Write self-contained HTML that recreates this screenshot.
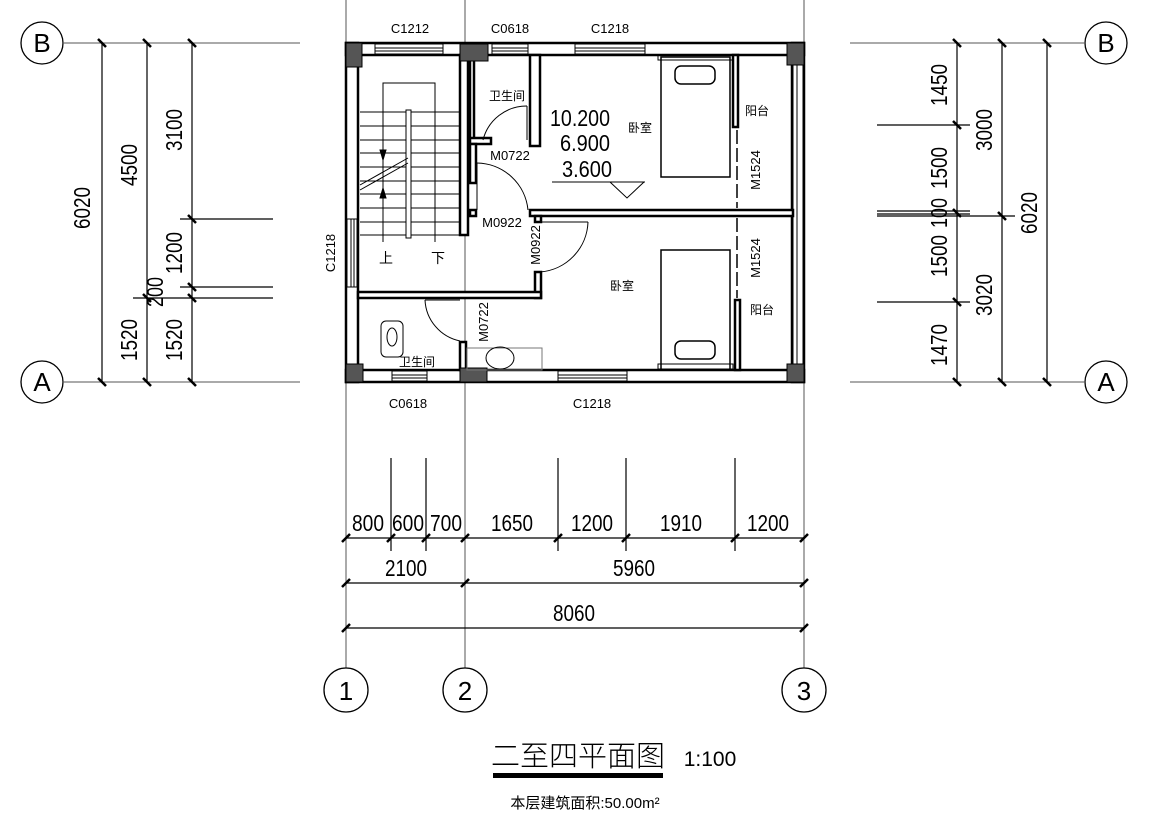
<!DOCTYPE html>
<html><head><meta charset="utf-8"><style>
html,body{margin:0;padding:0;background:#fff;}
svg{display:block;}
text{font-family:"Liberation Sans","Noto Sans CJK SC",sans-serif;fill:#000;}
.d{font-size:23px;}
.s{font-size:13px;}
.cj{font-size:12px;font-family:"Noto Sans CJK SC",sans-serif;}
</style></head><body>
<svg width="1149" height="829" viewBox="0 0 1149 829" xmlns="http://www.w3.org/2000/svg">
<g stroke="#000" fill="none">
<g stroke-width="1" stroke="#555">
<line x1="346" y1="0" x2="346" y2="668"/>
<line x1="465" y1="0" x2="465" y2="668"/>
<line x1="804" y1="0" x2="804" y2="668"/>
<line x1="64" y1="43" x2="300" y2="43"/>
<line x1="64" y1="382" x2="300" y2="382"/>
<line x1="850" y1="43" x2="1084" y2="43"/>
<line x1="850" y1="382" x2="1084" y2="382"/>
</g>
<g stroke-width="1.3">
<circle cx="42" cy="43" r="21"/><circle cx="42" cy="382" r="21"/>
<circle cx="1106" cy="43" r="21"/><circle cx="1106" cy="382" r="21"/>
<circle cx="346" cy="690" r="22"/><circle cx="465" cy="690" r="22"/><circle cx="804" cy="690" r="22"/>
</g>
<g stroke-width="1.2">
<line x1="102" y1="43" x2="102" y2="382"/>
<line x1="147" y1="43" x2="147" y2="382"/>
<line x1="192" y1="43" x2="192" y2="382"/>
<line x1="180" y1="219" x2="273" y2="219"/>
<line x1="180" y1="287" x2="273" y2="287"/>
<line x1="133" y1="298" x2="273" y2="298"/>
<line x1="957" y1="43" x2="957" y2="382"/>
<line x1="1002" y1="43" x2="1002" y2="382"/>
<line x1="1047" y1="43" x2="1047" y2="382"/>
<line x1="877" y1="125" x2="970" y2="125"/>
<line x1="877" y1="211" x2="970" y2="211"/>
<line x1="877" y1="214" x2="970" y2="214"/>
<line x1="877" y1="216" x2="1015" y2="216"/>
<line x1="877" y1="302" x2="970" y2="302"/>
<line x1="346" y1="538" x2="804" y2="538"/>
<line x1="346" y1="583" x2="804" y2="583"/>
<line x1="346" y1="628" x2="804" y2="628"/>
<line x1="391" y1="458" x2="391" y2="551"/>
<line x1="426" y1="458" x2="426" y2="551"/>
<line x1="558" y1="458" x2="558" y2="551"/>
<line x1="626" y1="458" x2="626" y2="551"/>
<line x1="735" y1="458" x2="735" y2="551"/>
</g>
<g stroke-width="2.5">
<path d="M98 39l8 8M143 39l8 8M188 39l8 8M98 378l8 8M143 378l8 8M188 378l8 8M188 215l8 8M188 283l8 8M188 294l8 8M143 294l8 8
M953 39l8 8M998 39l8 8M1043 39l8 8M953 378l8 8M998 378l8 8M1043 378l8 8M953 121l8 8M953 209l8 8M998 212l8 8M953 298l8 8
M342 542l8 -8M387 542l8 -8M422 542l8 -8M461 542l8 -8M554 542l8 -8M622 542l8 -8M731 542l8 -8M800 542l8 -8
M342 587l8 -8M461 587l8 -8M800 587l8 -8M342 632l8 -8M800 632l8 -8"/>
</g>
</g>

<g stroke="#000" stroke-width="2.5" fill="#fff">
<rect x="346" y="43" width="458" height="12"/>
<rect x="346" y="370" width="458" height="12"/>
<rect x="346" y="43" width="12" height="339"/>
<rect x="792" y="43" width="12" height="339"/>
</g>
<g stroke="#000" stroke-width="1" fill="#fff">
<rect x="375" y="44" width="68" height="10"/><line x1="375" y1="48" x2="443" y2="48"/><line x1="375" y1="51" x2="443" y2="51"/>
<rect x="492" y="44" width="36" height="10"/><line x1="492" y1="48" x2="528" y2="48"/><line x1="492" y1="51" x2="528" y2="51"/>
<rect x="575" y="44" width="70" height="10"/><line x1="575" y1="48" x2="645" y2="48"/><line x1="575" y1="51" x2="645" y2="51"/>
<rect x="392" y="371" width="35" height="10"/><line x1="392" y1="375" x2="427" y2="375"/><line x1="392" y1="378" x2="427" y2="378"/>
<rect x="558" y="371" width="69" height="10"/><line x1="558" y1="375" x2="627" y2="375"/><line x1="558" y1="378" x2="627" y2="378"/>
<rect x="347" y="219" width="10" height="68"/><line x1="351" y1="219" x2="351" y2="287"/><line x1="354" y1="219" x2="354" y2="287"/>
<rect x="793" y="58" width="10" height="308"/><line x1="797" y1="58" x2="797" y2="366"/>
</g>
<g stroke="#000" stroke-width="2.5" fill="#fff">
<rect x="460" y="55" width="8" height="180"/>
<rect x="470" y="55" width="4" height="87"/>
<rect x="470" y="138" width="21" height="6"/>
<rect x="530" y="55" width="10" height="91"/>
<rect x="470" y="144" width="6" height="39"/>
<rect x="470" y="210" width="6" height="6"/>
<rect x="530" y="210" width="263" height="6"/>
<rect x="535" y="216" width="6" height="6"/>
<rect x="535" y="272" width="6" height="26"/>
<rect x="358" y="292" width="183" height="6"/>
<rect x="460" y="342" width="6" height="28"/>
<rect x="733" y="55" width="5" height="72"/>
<rect x="735" y="300" width="5" height="70"/>
</g>
<g stroke="#000" stroke-width="1.5" fill="none">
<line x1="737" y1="130" x2="737" y2="208" stroke-dasharray="14 4"/>
<line x1="737" y1="218" x2="737" y2="298" stroke-dasharray="14 4"/>
</g>
<g fill="#555" stroke="#000" stroke-width="1">
<rect x="346" y="43" width="16" height="24"/>
<rect x="460" y="44" width="28" height="17"/>
<rect x="787" y="43" width="17" height="22"/>
<rect x="346" y="364" width="17" height="18"/>
<rect x="460" y="368" width="27" height="14"/>
<rect x="787" y="364" width="17" height="18"/>
</g>
<g stroke="#000" stroke-width="1" fill="none">
<path d="M360 112H460M360 126H460M360 140H460M360 153H460M360 167H460M360 181H460M360 194H460M360 208H460M360 222H460M360 235H460"/>
<path d="M383 242V83H435V242"/>
<rect x="406" y="110" width="5" height="128" fill="#fff"/>
<path d="M360 185L408 158M360 190L408 163"/>
<path d="M380 150L386 150L383 160Z M380 198L386 198L383 188Z" fill="#000"/>
<path d="M483 140A45 45 0 0 1 527 106"/>
<line x1="527" y1="106" x2="527" y2="140"/>
<path d="M477 163A52 52 0 0 1 528 210"/>
<line x1="477" y1="163" x2="477" y2="210"/>
<path d="M540 272A52 52 0 0 0 588 222"/>
<line x1="541" y1="222" x2="588" y2="222"/>
<path d="M425 300A44 44 0 0 0 460 341"/>
<line x1="425" y1="300" x2="460" y2="300"/>
<rect x="661" y="57" width="69" height="120" stroke-width="1.5"/>
<rect x="675" y="66" width="40" height="18" rx="6" stroke-width="1.5"/>
<rect x="658" y="55" width="75" height="5"/>
<rect x="661" y="250" width="69" height="120" stroke-width="1.5"/>
<rect x="675" y="341" width="40" height="18" rx="6" stroke-width="1.5"/>
<rect x="658" y="364" width="75" height="5"/>
<rect x="381" y="321" width="22" height="36" rx="5"/>
<ellipse cx="392" cy="337" rx="5" ry="9"/>
<rect x="467" y="348" width="75" height="22" stroke="#777"/>
<ellipse cx="500" cy="358" rx="14" ry="11"/>
<line x1="552" y1="182" x2="645" y2="182"/>
<path d="M610 182L627 198L644 182"/>
</g>

<g class="d" lengthAdjust="spacingAndGlyphs">
<text x="90" y="208" transform="rotate(-90 90 208)" text-anchor="middle" textLength="42" lengthAdjust="spacingAndGlyphs">6020</text>
<text x="137" y="165" transform="rotate(-90 137 165)" text-anchor="middle" textLength="42" lengthAdjust="spacingAndGlyphs">4500</text>
<text x="182" y="130" transform="rotate(-90 182 130)" text-anchor="middle" textLength="42" lengthAdjust="spacingAndGlyphs">3100</text>
<text x="182" y="253" transform="rotate(-90 182 253)" text-anchor="middle" textLength="42" lengthAdjust="spacingAndGlyphs">1200</text>
<text x="163" y="292" transform="rotate(-90 163 292)" text-anchor="middle" textLength="30" lengthAdjust="spacingAndGlyphs">200</text>
<text x="137" y="340" transform="rotate(-90 137 340)" text-anchor="middle" textLength="42" lengthAdjust="spacingAndGlyphs">1520</text>
<text x="182" y="340" transform="rotate(-90 182 340)" text-anchor="middle" textLength="42" lengthAdjust="spacingAndGlyphs">1520</text>
<text x="947" y="85" transform="rotate(-90 947 85)" text-anchor="middle" textLength="42" lengthAdjust="spacingAndGlyphs">1450</text>
<text x="992" y="130" transform="rotate(-90 992 130)" text-anchor="middle" textLength="42" lengthAdjust="spacingAndGlyphs">3000</text>
<text x="947" y="168" transform="rotate(-90 947 168)" text-anchor="middle" textLength="42" lengthAdjust="spacingAndGlyphs">1500</text>
<text x="947" y="213" transform="rotate(-90 947 213)" text-anchor="middle" textLength="30" lengthAdjust="spacingAndGlyphs">100</text>
<text x="947" y="256" transform="rotate(-90 947 256)" text-anchor="middle" textLength="42" lengthAdjust="spacingAndGlyphs">1500</text>
<text x="992" y="295" transform="rotate(-90 992 295)" text-anchor="middle" textLength="42" lengthAdjust="spacingAndGlyphs">3020</text>
<text x="947" y="345" transform="rotate(-90 947 345)" text-anchor="middle" textLength="42" lengthAdjust="spacingAndGlyphs">1470</text>
<text x="1037" y="213" transform="rotate(-90 1037 213)" text-anchor="middle" textLength="42" lengthAdjust="spacingAndGlyphs">6020</text>
<text x="368" y="531" text-anchor="middle" textLength="32" lengthAdjust="spacingAndGlyphs">800</text>
<text x="408" y="531" text-anchor="middle" textLength="32" lengthAdjust="spacingAndGlyphs">600</text>
<text x="446" y="531" text-anchor="middle" textLength="32" lengthAdjust="spacingAndGlyphs">700</text>
<text x="512" y="531" text-anchor="middle" textLength="42" lengthAdjust="spacingAndGlyphs">1650</text>
<text x="592" y="531" text-anchor="middle" textLength="42" lengthAdjust="spacingAndGlyphs">1200</text>
<text x="681" y="531" text-anchor="middle" textLength="42" lengthAdjust="spacingAndGlyphs">1910</text>
<text x="768" y="531" text-anchor="middle" textLength="42" lengthAdjust="spacingAndGlyphs">1200</text>
<text x="406" y="576" text-anchor="middle" textLength="42" lengthAdjust="spacingAndGlyphs">2100</text>
<text x="634" y="576" text-anchor="middle" textLength="42" lengthAdjust="spacingAndGlyphs">5960</text>
<text x="574" y="621" text-anchor="middle" textLength="42" lengthAdjust="spacingAndGlyphs">8060</text>
<text x="580" y="126" text-anchor="middle" textLength="60" lengthAdjust="spacingAndGlyphs">10.200</text>
<text x="585" y="151" text-anchor="middle" textLength="50" lengthAdjust="spacingAndGlyphs">6.900</text>
<text x="587" y="177" text-anchor="middle" textLength="50" lengthAdjust="spacingAndGlyphs">3.600</text>
</g>
<g style="font-family:'Liberation Serif',serif;font-size:26px">
<text x="42" y="52" text-anchor="middle">B</text>
<text x="42" y="391" text-anchor="middle">A</text>
<text x="1106" y="52" text-anchor="middle">B</text>
<text x="1106" y="391" text-anchor="middle">A</text>
<text x="346" y="700" text-anchor="middle">1</text>
<text x="465" y="700" text-anchor="middle">2</text>
<text x="804" y="700" text-anchor="middle">3</text>
</g>
<g class="s">
<text x="410" y="33" text-anchor="middle">C1212</text>
<text x="510" y="33" text-anchor="middle">C0618</text>
<text x="610" y="33" text-anchor="middle">C1218</text>
<text x="408" y="408" text-anchor="middle">C0618</text>
<text x="592" y="408" text-anchor="middle">C1218</text>
<text x="335" y="253" transform="rotate(-90 335 253)" text-anchor="middle">C1218</text>
<text x="510" y="160" text-anchor="middle">M0722</text>
<text x="502" y="227" text-anchor="middle">M0922</text>
<text x="540" y="245" transform="rotate(-90 540 245)" text-anchor="middle">M0922</text>
<text x="488" y="322" transform="rotate(-90 488 322)" text-anchor="middle">M0722</text>
<text x="760" y="170" transform="rotate(-90 760 170)" text-anchor="middle">M1524</text>
<text x="760" y="258" transform="rotate(-90 760 258)" text-anchor="middle">M1524</text>
</g>
<g class="cj">
<text x="507" y="100" text-anchor="middle">卫生间</text>
<text x="640" y="132" text-anchor="middle">卧室</text>
<text x="622" y="290" text-anchor="middle">卧室</text>
<text x="757" y="115" text-anchor="middle">阳台</text>
<text x="762" y="314" text-anchor="middle">阳台</text>
<text x="417" y="366" text-anchor="middle">卫生间</text>
<text x="386" y="263" text-anchor="middle" style="font-size:14px">上</text>
<text x="438" y="263" text-anchor="middle" style="font-size:14px">下</text>
</g>
<text x="578" y="766" text-anchor="middle" style="font-family:'Noto Sans CJK SC',sans-serif;font-size:29px;font-weight:300">二至四平面图</text>
<text x="710" y="766" text-anchor="middle" style="font-size:21px">1:100</text>
<rect x="493" y="773" width="170" height="5" fill="#000"/>
<text x="585" y="808" text-anchor="middle" style="font-family:'Liberation Sans','Noto Sans CJK SC',sans-serif;font-size:15px">本层建筑面积:50.00m²</text>
</svg>
</body></html>
